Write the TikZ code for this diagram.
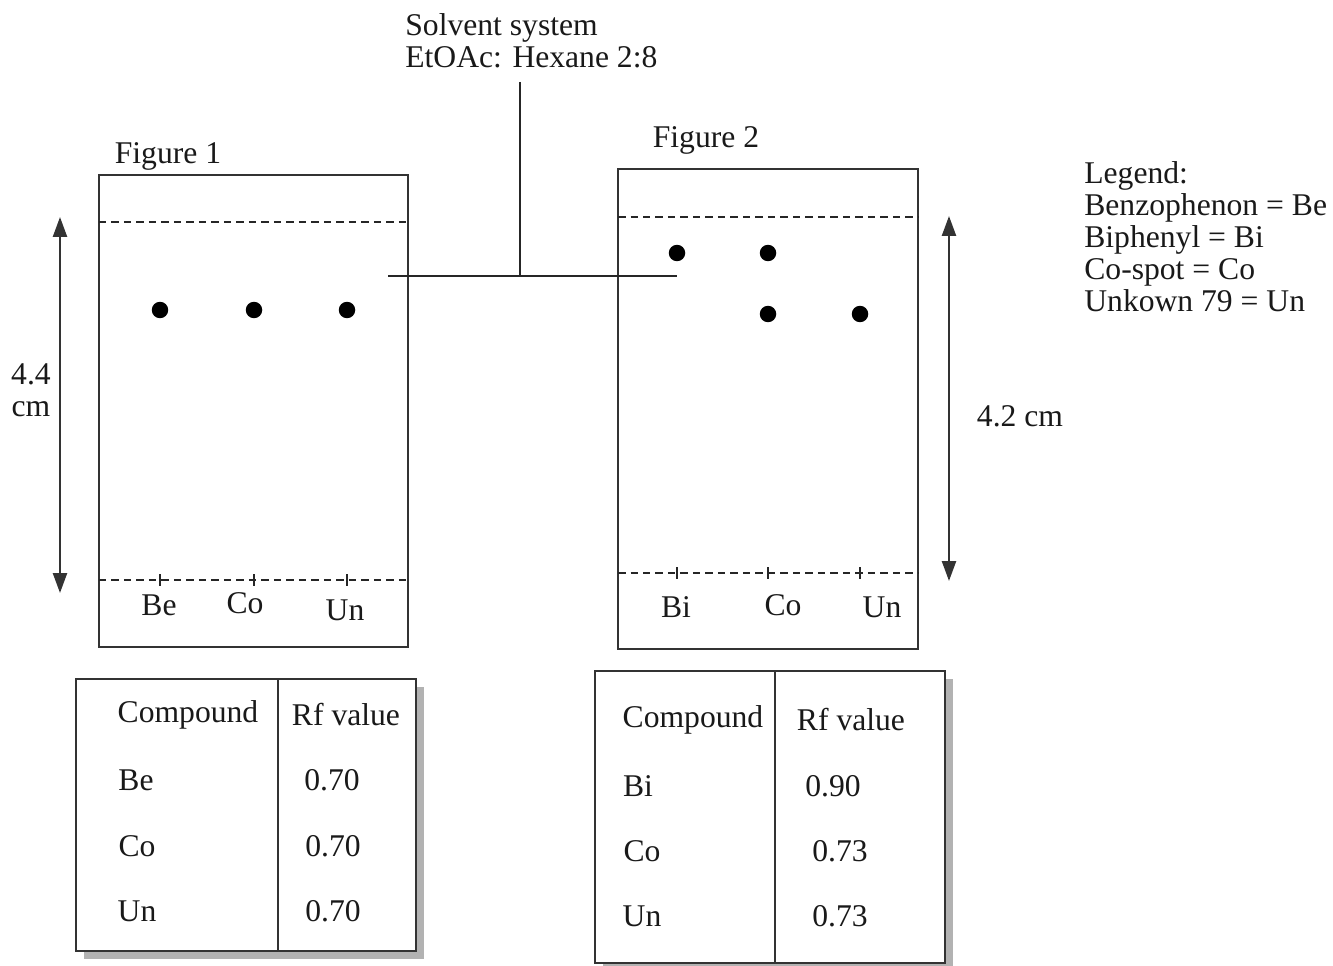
\documentclass[tikz,border=0pt]{standalone}
\usepackage{fontspec}
\setmainfont{Liberation Serif}
\usetikzlibrary{arrows.meta}
\begin{document}
\begin{tikzpicture}[x=0.02cm,y=-0.02cm,
  txt/.style={inner sep=0pt,font=\fontsize{18}{18.2}\selectfont,text=black!90},
  plate/.style={draw=black!80,line width=1.5pt},
  front/.style={draw=black!85,line width=1.3pt,dash pattern=on 0.15cm off 0.1cm},
  spot/.style={circle,fill=black,inner sep=0pt,minimum size=0.33cm},
  tick/.style={draw=black!85,line width=1.2pt},
  dim/.style={draw=black!80,line width=1.4pt,{Triangle[length=0.4cm,width=0.28cm]}-{Triangle[length=0.4cm,width=0.28cm]}},
  tbl/.style={draw=black!80,line width=1.5pt,fill=white},
  shadow/.style={fill=black!30,draw=none},
  conn/.style={draw=black!85,line width=1.4pt}]
\useasboundingbox (0,0) rectangle (1333,966);

% ---------- Figure 1 plate ----------
\node[txt] (f1lab) at (168,156) {Figure 1};
\draw[plate] (99,175) rectangle (408,647);
\draw[front] (99,222) -- (408,222);
\draw[front] (99,580) -- (408,580);
\foreach \x/\n in {160/a,254/b,347/c}{
  \node[spot] (s1\n) at (\x,310) {};
  \draw[tick] (\x,574) -- (\x,586);
}
\node[txt] (be1) at (159,605) {Be};
\node[txt] (co1) at (245,603) {Co};
\node[txt] (un1) at (345,610) {Un};
\coordinate (d1t) at (60,217);
\coordinate (d1b) at (60,593);
\draw[dim] (d1t) -- (d1b);
\node[txt,align=center] (l44) at (31,390) {4.4\\cm};

% ---------- Figure 2 plate ----------
\node[txt] (f2lab) at (706,140) {Figure 2};
\draw[plate] (618,169) rectangle (918,649);
\draw[front] (618,217) -- (918,217);
\draw[front] (618,573) -- (918,573);
\node[spot] (s2a) at (677,253) {};
\node[spot] (s2b) at (768,253) {};
\node[spot] (s2c) at (768,314) {};
\node[spot] (s2d) at (860,314) {};
\foreach \x in {677,768,860}{
  \draw[tick] (\x,567) -- (\x,579);
}
\node[txt] (bi2) at (676,607) {Bi};
\node[txt] (co2) at (783,605) {Co};
\node[txt] (un2) at (882,607) {Un};
\coordinate (d2t) at (949,216);
\coordinate (d2b) at (949,581);
\draw[dim] (d2t) -- (d2b);
\node[txt] (l42) at (1020,416) {4.2 cm};

% ---------- Solvent system ----------
\node[txt,align=left,anchor=north west] (solv) at (405,13) {Solvent system\\EtOAc: Hexane 2:8};
\coordinate (vtop) at (520,82);
\coordinate (vj) at (520,276);
\coordinate (hl) at (388,276);
\coordinate (hr) at (677,276);
\draw[conn] (vtop) -- (vj);
\draw[conn] (hl) -- (hr);

% ---------- Legend ----------
\node[txt,align=left,anchor=north west] (leg) at (1084,161)
  {Legend:\\Benzophenon = Be\\Biphenyl = Bi\\Co-spot = Co\\Unkown 79 = Un};

% ---------- Table 1 ----------
\fill[shadow] (84,687) rectangle (424,959);
\draw[tbl] (76,679) rectangle (416,951);
\draw[tbl] (278,679) -- (278,951);
\node[txt] (t1h1) at (188,715) {Compound};
\node[txt] (t1h2) at (346,715) {Rf value};
\node[txt] (t1a) at (136,780) {Be};
\node[txt] (t1b) at (137,846) {Co};
\node[txt] (t1c) at (137,911) {Un};
\node[txt] (t1va) at (332,780) {0.70};
\node[txt] (t1vb) at (333,846) {0.70};
\node[txt] (t1vc) at (333,911) {0.70};

% ---------- Table 2 ----------
\fill[shadow] (603,679) rectangle (953,966);
\draw[tbl] (595,671) rectangle (945,963);
\draw[tbl] (775,671) -- (775,963);
\node[txt] (t2h1) at (693,720) {Compound};
\node[txt] (t2h2) at (851,720) {Rf value};
\node[txt] (t2a) at (638,786) {Bi};
\node[txt] (t2b) at (642,851) {Co};
\node[txt] (t2c) at (642,916) {Un};
\node[txt] (t2va) at (833,786) {0.90};
\node[txt] (t2vb) at (840,851) {0.73};
\node[txt] (t2vc) at (840,916) {0.73};
\end{tikzpicture}
\end{document}
